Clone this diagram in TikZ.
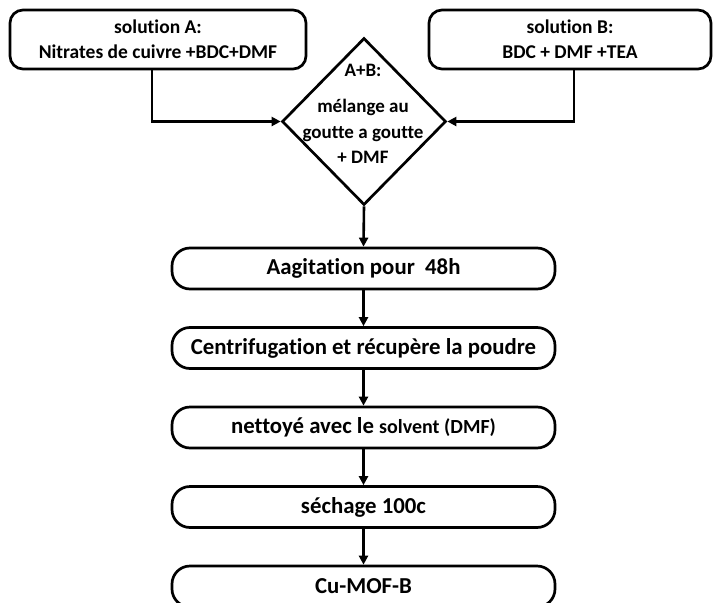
\documentclass[tikz,border=0pt]{standalone}
\usepackage{fontspec}
\setmainfont{Carlito}[Ligatures=NoCommon]
\usepackage{tikz}
\usetikzlibrary{arrows.meta,shapes.geometric,positioning}

\begin{document}
\begin{tikzpicture}[x=1pt,y=-1pt,
  solbox/.style={draw, line width=2.7pt, rounded corners=13pt, align=center,
    font=\fontsize{19.5}{25}\selectfont\bfseries, inner sep=0pt},
  stagebox/.style={draw, line width=2.7pt, rounded corners=18pt,
    minimum width=383pt, minimum height=41pt, inner sep=0pt,
    font=\fontsize{22.8}{26}\selectfont\bfseries},
  mixbox/.style={draw, diamond, line width=2.7pt, inner sep=0pt,
    minimum width=164pt, minimum height=167pt},
  arr/.style={-{Triangle[length=9pt,width=9pt]}, line width=2.6pt}]
\useasboundingbox (0,0) rectangle (713,603);

% the two starting solutions
\node[solbox, minimum width=296pt, minimum height=59pt] (solA) at (158,39.5)
  {solution A:\\Nitrates de cuivre +BDC+DMF};
\node[solbox, minimum width=282pt, minimum height=59pt] (solB) at (570,39.5)
  {solution B:\\BDC + DMF +TEA};

% mixing step
\node[mixbox] (mix) at (364,121.5) {};
\node[align=center, inner sep=0pt, font=\fontsize{19}{25.5}\selectfont\bfseries] (mixtxt) at (363,114)
  {A+B:\\[11pt]mélange au\\goutte a goutte\\+ DMF};

% process steps
\node[stagebox] (agit) at (363.5,268.5) {Aagitation pour~~48h};
\node[stagebox, below=35.8pt of agit] (centri) {Centrifugation et récupère la poudre};
\node[stagebox, below=35.8pt of centri] (nettoy)
  {nettoyé avec le {\fontsize{20}{24}\selectfont solvent (DMF)}};
\node[stagebox, below=35.8pt of nettoy] (sech) {séchage 100c};
\node[stagebox, below=35.8pt of sech] (cumof) {Cu-MOF-B};

% connectors
\draw[arr] ([xshift=-6pt]solA.south) |- (mix.west);
\draw[arr] ([xshift=4pt]solB.south) |- (mix.east);
\draw[arr] (mix.south) -- (agit.north);
\foreach \a/\b in {agit/centri, centri/nettoy, nettoy/sech, sech/cumof}
  \draw[arr] (\a.south) -- (\b.north);
\end{tikzpicture}
\end{document}
